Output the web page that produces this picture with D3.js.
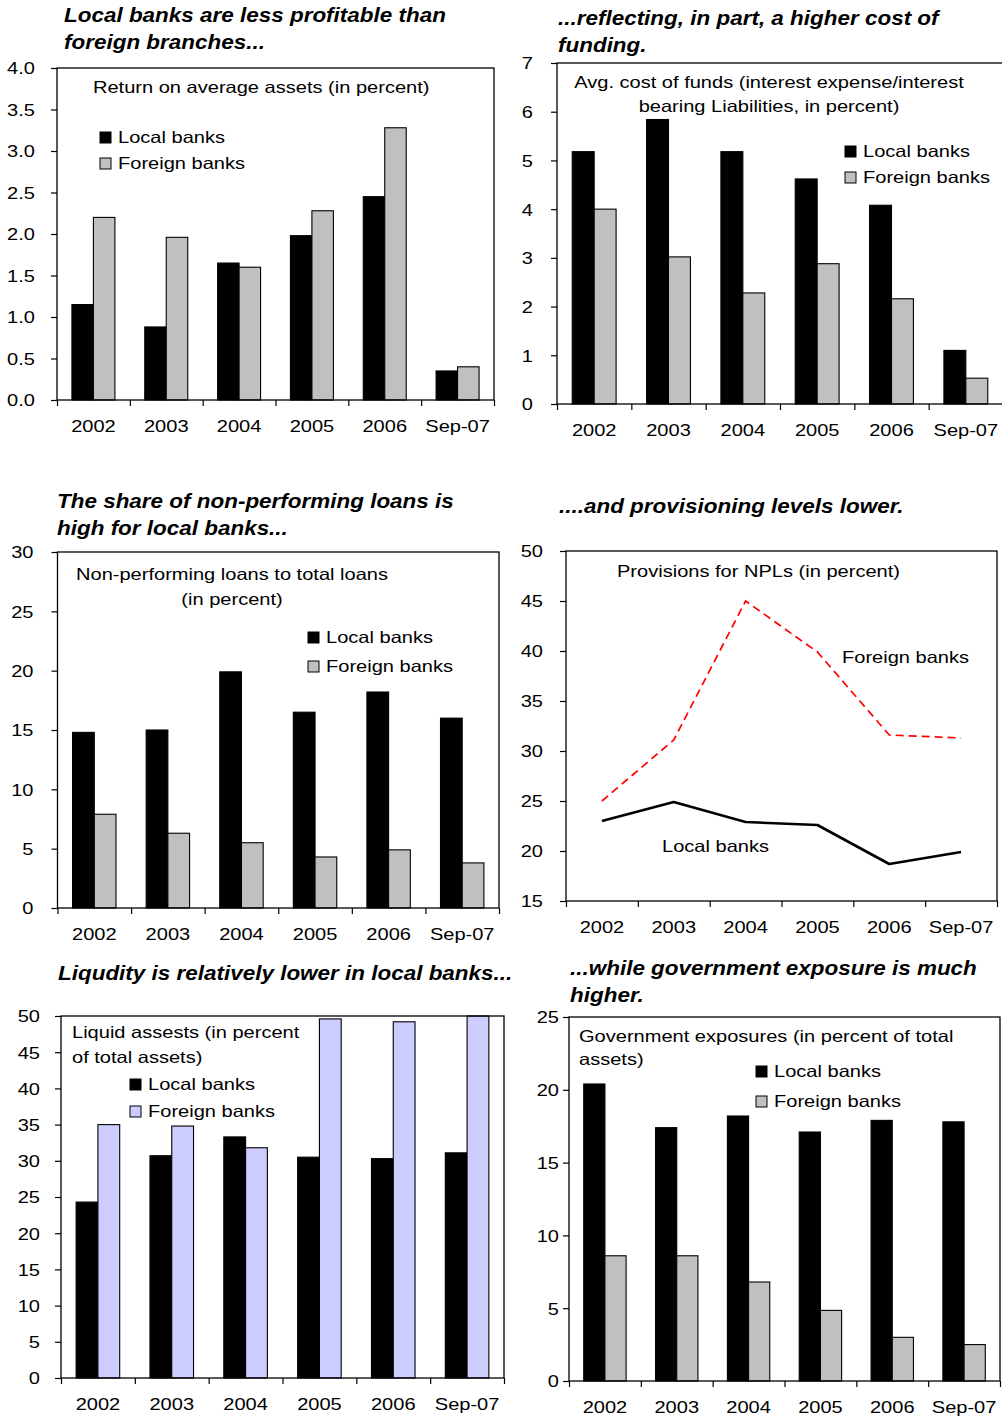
<!DOCTYPE html>
<html>
<head>
<meta charset="utf-8">
<script src="https://cdn.jsdelivr.net/npm/d3@7/dist/d3.min.js"></script>
<style>
  html, body { margin: 0; padding: 0; background: #fff; }
  svg { display: block; }
  text { font-family: "Liberation Sans", Arial, sans-serif; fill: #000; }
</style>
</head>
<body>
<svg id="chart" width="1002" height="1418"></svg>
<script>
// Periods shared by every panel
const categories = ["2002", "2003", "2004", "2005", "2006", "Sep-07"];

// Return on average assets (percent)
const roaLocal   = [1.15, 0.88, 1.65, 1.98, 2.45, 0.35];
const roaForeign = [2.20, 1.96, 1.60, 2.28, 3.28, 0.40];
const roaTicks   = [0, 0.5, 1.0, 1.5, 2.0, 2.5, 3.0, 3.5, 4.0];

// Average cost of funds (percent)
const costLocal   = [5.18, 5.84, 5.18, 4.62, 4.08, 1.10];
const costForeign = [4.00, 3.02, 2.28, 2.88, 2.16, 0.53];
const costTicks   = [0, 1, 2, 3, 4, 5, 6, 7];

// Non-performing loans to total loans (percent)
const nplLocal   = [14.8, 15.0, 19.9, 16.5, 18.2, 16.0];
const nplForeign = [7.9, 6.3, 5.5, 4.3, 4.9, 3.8];
const nplTicks   = [0, 5, 10, 15, 20, 25, 30];

// Provisions for NPLs (percent)
const provLocal   = [23.0, 24.9, 22.9, 22.6, 18.7, 19.9];
const provForeign = [25.0, 31.1, 45.0, 39.9, 31.6, 31.3];
const provTicks   = [15, 20, 25, 30, 35, 40, 45, 50];

// Liquid assets (percent of total assets)
const liqLocal   = [24.3, 30.7, 33.3, 30.5, 30.3, 31.1];
const liqForeign = [35.0, 34.8, 31.8, 49.6, 49.2, 50.0];
const liqTicks   = [0, 5, 10, 15, 20, 25, 30, 35, 40, 45, 50];

// Government exposures (percent of total assets)
const govLocal   = [20.4, 17.4, 18.2, 17.1, 17.9, 17.8];
const govForeign = [8.6, 8.6, 6.8, 4.85, 3.0, 2.5];
const govTicks   = [0, 5, 10, 15, 20, 25];

const seriesNames = ["Local banks", "Foreign banks"];

const svg = d3.select("#chart");
const FS = 16.3;      // body text size
const SX = 1.23;      // horizontal stretch of body text
const TFS = 21;       // panel heading size
const TSX = 1.07;     // horizontal stretch of headings

function txt(g, str, x, y, opt = {}) {
  return g.append("text")
    .attr("transform", `translate(${x},${y}) scale(${opt.sx || SX},1)`)
    .attr("text-anchor", opt.anchor || "start")
    .style("font-size", (opt.size || FS) + "px")
    .style("font-weight", opt.bold ? "bold" : null)
    .style("font-style", opt.italic ? "italic" : null)
    .text(str);
}

function heading(g, lines, x, y0) {
  lines.forEach((s, i) => txt(g, s, x, y0 + i * 27, { size: TFS, sx: TSX, bold: true, italic: true }));
}

function frame(cfg) {
  const g = svg.append("g");
  const x = d3.scaleBand().domain(categories).range([cfg.L, cfg.R]);
  const y = d3.scaleLinear().domain([cfg.ticks[0], cfg.ticks[cfg.ticks.length - 1]]).range([cfg.B, cfg.T]);

  // y axis
  const ya = g.append("g").attr("transform", `translate(${cfg.L},0)`)
    .call(d3.axisLeft(y).tickValues(cfg.ticks).tickSize(6).tickSizeOuter(0)
      .tickFormat(cfg.fmt || d3.format("d")));
  ya.select(".domain").remove();
  ya.selectAll(".tick line").attr("stroke", "#000").attr("stroke-width", 1.2);
  ya.selectAll(".tick text")
    .attr("x", null).attr("dy", "0.36em")
    .attr("transform", `translate(${-cfg.pad},0) scale(${SX},1)`)
    .attr("font-size", null).attr("font-family", null)
    .style("font-size", FS + "px");

  // category boundary ticks
  const xb = d3.scaleLinear().domain([0, categories.length]).range([cfg.L, cfg.R]);
  const xt = g.append("g").attr("transform", `translate(0,${cfg.B})`)
    .call(d3.axisBottom(xb).tickValues(d3.range(categories.length + 1)).tickSize(6).tickFormat(""));
  xt.select(".domain").remove();
  xt.selectAll(".tick line").attr("stroke", "#000").attr("stroke-width", 1.2);

  // category labels
  const xl = g.append("g").attr("transform", `translate(0,${cfg.B})`)
    .call(d3.axisBottom(x).tickSize(0));
  xl.select(".domain").remove();
  xl.selectAll(".tick text")
    .attr("y", null).attr("dy", null)
    .attr("transform", `translate(0,32) scale(${SX},1)`)
    .attr("font-size", null).attr("font-family", null)
    .style("font-size", FS + "px");

  return { g, x, y };
}

function border(g, cfg) {
  g.append("rect")
    .attr("x", cfg.L).attr("y", cfg.T)
    .attr("width", cfg.R - cfg.L).attr("height", cfg.B - cfg.T)
    .attr("fill", "none").attr("stroke", "#000").attr("stroke-width", 1.3);
}

function barPanel(cfg) {
  const { g, x, y } = frame(cfg);
  const bw = x.bandwidth();
  const barW = bw * 0.295;
  const xs = d3.scaleBand().domain(seriesNames).range([bw / 2 - barW, bw / 2 + barW]);
  const rows = categories.map((c, i) => ({ c, vals: [cfg.local[i], cfg.foreign[i]] }));
  const colors = ["#000000", cfg.color];

  const grp = g.append("g").selectAll("g").data(rows).join("g")
    .attr("transform", d => `translate(${x(d.c)},0)`);
  grp.selectAll("rect").data(d => d.vals.map((v, k) => ({ v, k }))).join("rect")
    .attr("x", d => xs(seriesNames[d.k]))
    .attr("width", xs.bandwidth())
    .attr("y", d => y(d.v))
    .attr("height", d => y(cfg.ticks[0]) - y(d.v))
    .attr("fill", d => colors[d.k])
    .attr("stroke", "#000").attr("stroke-width", 1.1);

  border(g, cfg);

  // legend
  seriesNames.forEach((s, k) => {
    const by = cfg.legY[k];
    g.append("rect").attr("x", cfg.legX).attr("y", by - 11)
      .attr("width", 11).attr("height", 11)
      .attr("fill", colors[k]).attr("stroke", "#000").attr("stroke-width", 1);
    txt(g, s, cfg.legX + 18, by);
  });
  return g;
}

// Panel 1: return on average assets
{
  const cfg = { L: 57, R: 494, T: 68, B: 400, ticks: roaTicks, fmt: d3.format(".1f"), pad: 22,
    local: roaLocal, foreign: roaForeign, color: "#c0c0c0", legX: 100, legY: [143, 169] };
  const g = barPanel(cfg);
  heading(g, ["Local banks are less profitable than", "foreign branches..."], 64, 22);
  txt(g, "Return on average assets (in percent)", 93, 93);
}

// Panel 2: cost of funds
{
  const cfg = { L: 557, R: 1003, T: 63, B: 404, ticks: costTicks, pad: 24,
    local: costLocal, foreign: costForeign, color: "#c0c0c0", legX: 845, legY: [157, 183] };
  const g = barPanel(cfg);
  heading(g, ["...reflecting, in part, a higher cost of", "funding."], 558, 25);
  txt(g, "Avg. cost of funds (interest expense/interest", 769, 88, { anchor: "middle" });
  txt(g, "bearing Liabilities, in percent)", 769, 112, { anchor: "middle" });
}

// Panel 3: non-performing loans
{
  const cfg = { L: 57.5, R: 499, T: 552, B: 908, ticks: nplTicks, pad: 24,
    local: nplLocal, foreign: nplForeign, color: "#c0c0c0", legX: 308, legY: [643, 672] };
  const g = barPanel(cfg);
  heading(g, ["The share of non-performing loans is", "high for local banks..."], 57, 508);
  txt(g, "Non-performing loans to total loans", 232, 580, { anchor: "middle" });
  txt(g, "(in percent)", 232, 605, { anchor: "middle" });
}

// Panel 4: provisions (lines)
{
  const cfg = { L: 566, R: 997, T: 551, B: 901, ticks: provTicks, pad: 23 };
  const { g, x, y } = frame(cfg);
  const cx = c => x(c) + x.bandwidth() / 2;
  const line = d3.line().x((d, i) => cx(categories[i])).y(d => y(d));
  g.append("path").datum(provForeign).attr("d", line)
    .attr("fill", "none").attr("stroke", "#ff0000").attr("stroke-width", 1.7)
    .attr("stroke-dasharray", "8,5");
  g.append("path").datum(provLocal).attr("d", line)
    .attr("fill", "none").attr("stroke", "#000").attr("stroke-width", 2.6)
    .attr("stroke-linejoin", "round");
  border(g, cfg);
  heading(g, ["....and provisioning levels lower."], 559, 513);
  txt(g, "Provisions for NPLs (in percent)", 617, 577);
  txt(g, "Foreign banks", 842, 663);
  txt(g, "Local banks", 662, 852);
}

// Panel 5: liquid assets
{
  const cfg = { L: 61, R: 504, T: 1016, B: 1378, ticks: liqTicks, pad: 21,
    local: liqLocal, foreign: liqForeign, color: "#ccccff", legX: 130, legY: [1090, 1117] };
  const g = barPanel(cfg);
  heading(g, ["Liqudity is relatively lower in local banks..."], 58, 980);
  txt(g, "Liquid assests (in percent", 72, 1038);
  txt(g, "of total assets)", 72, 1063);
}

// Panel 6: government exposures
{
  const cfg = { L: 569, R: 1000, T: 1017, B: 1381, ticks: govTicks, pad: 10,
    local: govLocal, foreign: govForeign, color: "#c0c0c0", legX: 756, legY: [1077, 1107] };
  const g = barPanel(cfg);
  heading(g, ["...while government exposure is much", "higher."], 570, 975);
  txt(g, "Government exposures (in percent of total", 579, 1042);
  txt(g, "assets)", 579, 1065);
}
</script>
</body>
</html>
